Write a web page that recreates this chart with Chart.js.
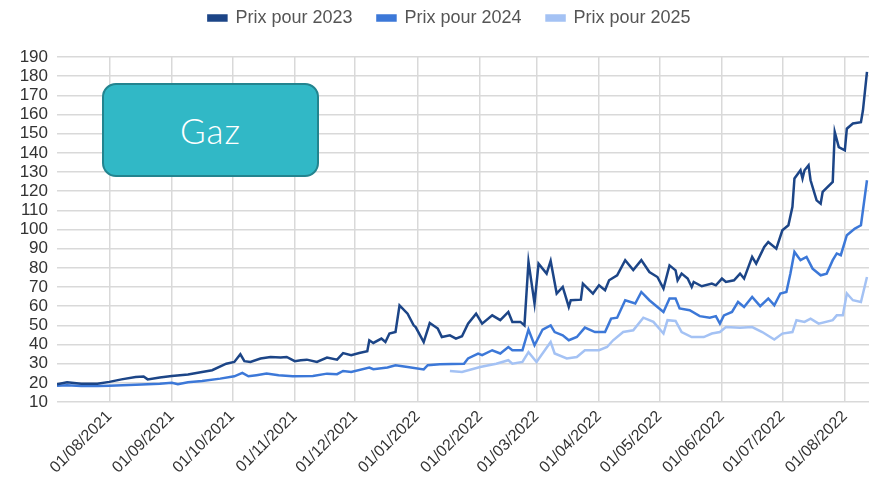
<!DOCTYPE html>
<html>
<head>
<meta charset="utf-8">
<script src="https://cdn.jsdelivr.net/npm/chart.js@4.4.1/dist/chart.umd.min.js"></script>
<style>
  html, body { margin: 0; padding: 0; background: #fff; }
  #wrap { position: relative; width: 869px; height: 487px; }
  #gaz {
    position: absolute; left: 102px; top: 83px; width: 213px; height: 90px;
    background: #31b8c6; border: 2px solid #23848f; border-radius: 14px;
    color: #fff; font-family: Lato, "Noto Sans", sans-serif; font-weight: 300;
    font-size: 35px; letter-spacing: 1px; display: flex; align-items: center; justify-content: center;
  }
</style>
</head>
<body>
<div id="wrap">
  <canvas id="gazChart" width="869" height="487"></canvas>
  <div id="gaz">Gaz</div>
</div>
<script>
// Prix du gaz par échéance (lecture du graphique)
const dates2023 = ['2021-07-06','2021-07-11','2021-07-18','2021-07-26','2021-08-01','2021-08-07','2021-08-14','2021-08-18','2021-08-20','2021-08-26',
  '2021-09-01','2021-09-09','2021-09-16','2021-09-21','2021-09-28','2021-10-02','2021-10-05','2021-10-07','2021-10-10','2021-10-15',
  '2021-10-20','2021-10-25','2021-10-28','2021-11-01','2021-11-04','2021-11-07','2021-11-12','2021-11-17','2021-11-22','2021-11-25',
  '2021-11-29','2021-12-03','2021-12-07','2021-12-08','2021-12-10','2021-12-14','2021-12-16','2021-12-18','2021-12-21','2021-12-23',
  '2021-12-27','2021-12-30','2021-12-31','2022-01-04','2022-01-07','2022-01-11','2022-01-13','2022-01-17','2022-01-20','2022-01-23',
  '2022-01-26','2022-01-30','2022-02-02','2022-02-07','2022-02-11','2022-02-15','2022-02-17','2022-02-21','2022-02-23','2022-02-25',
  '2022-02-28','2022-03-02','2022-03-06','2022-03-08','2022-03-11','2022-03-14','2022-03-17','2022-03-18','2022-03-23','2022-03-24',
  '2022-03-29','2022-04-01','2022-04-04','2022-04-06','2022-04-10','2022-04-14','2022-04-18','2022-04-22','2022-04-26','2022-04-30',
  '2022-05-03','2022-05-06','2022-05-09','2022-05-10','2022-05-12','2022-05-15','2022-05-17','2022-05-18','2022-05-22','2022-05-27',
  '2022-05-29','2022-06-01','2022-06-03','2022-06-07','2022-06-10','2022-06-12','2022-06-16','2022-06-18','2022-06-22','2022-06-24',
  '2022-06-28','2022-07-01','2022-07-04','2022-07-06','2022-07-07','2022-07-10','2022-07-11','2022-07-12','2022-07-14','2022-07-15',
  '2022-07-18','2022-07-20','2022-07-21','2022-07-26','2022-07-27','2022-07-29','2022-08-01','2022-08-02','2022-08-05','2022-08-09',
  '2022-08-10','2022-08-12'];
const prix2023 = [19.3, 20.3, 19.5, 19.5, 20.5, 21.8, 23, 23.3, 21.8, 22.8,
  23.6, 24.4, 25.7, 26.6, 30, 30.9, 34.9, 31.3, 30.9, 32.7,
  33.5, 33.2, 33.5, 31.3, 31.8, 32.1, 30.9, 33.2, 32.1, 35.5,
  34.4, 35.6, 36.5, 42.2, 40.8, 43.1, 41.3, 45.7, 46.5, 60.4,
  56.1, 50, 49.1, 41.3, 51.2, 48.3, 43.9, 44.8, 43.1, 44.3,
  50.9, 56.1, 50.9, 55.2, 52.7, 57, 51.8, 51.8, 50, 83.1,
  61.4, 82.2, 77, 83.6, 66.6, 70, 59.6, 63.1, 63.4, 71.8,
  66.6, 70.9, 68.3, 73.5, 76.1, 84, 78.9, 84, 77.8, 75.2,
  69.2, 81.3, 78.7, 73.5, 77, 74.4, 70, 72.6, 70.4, 71.8,
  70.9, 74.4, 72.6, 73.5, 77, 74.4, 85.7, 82.2, 90.9, 93.5,
  90, 99.6, 102.2, 111.8, 126.6, 130.9, 126.6, 130.9, 133.5, 125.7,
  115.2, 113.5, 119.6, 124.8, 150.9, 143, 141.3, 152.6, 155.3, 156,
  162.2, 182.2];

const dates2024 = ['2021-07-06','2021-07-11','2021-07-18','2021-07-26','2021-08-01','2021-08-14','2021-08-26','2021-09-01','2021-09-04','2021-09-09',
  '2021-09-16','2021-09-25','2021-10-02','2021-10-06','2021-10-09','2021-10-13','2021-10-18','2021-10-24','2021-10-31','2021-11-10',
  '2021-11-17','2021-11-22','2021-11-25','2021-11-29','2021-12-08','2021-12-10','2021-12-17','2021-12-21','2021-12-27','2022-01-04',
  '2022-01-06','2022-01-12','2022-01-24','2022-01-26','2022-01-31','2022-02-02','2022-02-07','2022-02-11','2022-02-15','2022-02-17',
  '2022-02-22','2022-02-25','2022-02-28','2022-03-04','2022-03-08','2022-03-10','2022-03-14','2022-03-17','2022-03-21','2022-03-25',
  '2022-03-30','2022-04-04','2022-04-07','2022-04-10','2022-04-14','2022-04-19','2022-04-22','2022-04-26','2022-04-30','2022-05-03',
  '2022-05-06','2022-05-09','2022-05-11','2022-05-16','2022-05-21','2022-05-26','2022-05-29','2022-05-31','2022-06-02','2022-06-06',
  '2022-06-09','2022-06-12','2022-06-16','2022-06-20','2022-06-24','2022-06-27','2022-06-30','2022-07-03','2022-07-05','2022-07-07',
  '2022-07-10','2022-07-13','2022-07-16','2022-07-20','2022-07-23','2022-07-26','2022-07-28','2022-07-30','2022-08-02','2022-08-06',
  '2022-08-09','2022-08-12'];
const prix2024 = [18.5, 18.8, 18.3, 18.3, 18.5, 19, 19.5, 20, 19.3, 20.3,
  21, 22.2, 23.4, 25.2, 23.4, 24, 24.8, 24, 23.4, 23.6,
  24.8, 24.5, 26.2, 25.7, 28, 27.1, 28, 29.2, 28.3, 27,
  29.2, 29.7, 30, 32.7, 35.3, 34.4, 37, 35.3, 38.7, 37,
  37, 47.8, 39.6, 47.8, 50, 46.5, 44.8, 42.2, 43.9, 48.8,
  46.5, 46.5, 53.5, 54, 63.1, 61.4, 67.4, 63.1, 59.6, 57,
  64, 64, 58.8, 57.9, 54.8, 54, 54.8, 50.9, 55.2, 57,
  62.2, 59.6, 64.8, 60, 64, 60.5, 66.6, 67.4, 77, 88.3,
  84, 85.7, 79.6, 76.1, 77, 84, 87.5, 86.6, 97, 100.5,
  102.2, 125.7];

const dates2025 = ['2022-01-17','2022-01-23','2022-02-01','2022-02-09','2022-02-15','2022-02-17','2022-02-22','2022-02-25','2022-03-01','2022-03-08',
  '2022-03-10','2022-03-16','2022-03-21','2022-03-25','2022-04-01','2022-04-05','2022-04-08','2022-04-13','2022-04-18','2022-04-23',
  '2022-04-28','2022-05-03','2022-05-05','2022-05-09','2022-05-12','2022-05-17','2022-05-23','2022-05-27','2022-05-31','2022-06-03',
  '2022-06-10','2022-06-16','2022-06-21','2022-06-27','2022-07-01','2022-07-06','2022-07-08','2022-07-12','2022-07-15','2022-07-19',
  '2022-07-26','2022-07-28','2022-07-31','2022-08-02','2022-08-05','2022-08-09','2022-08-12'];
const prix2025 = [26.2, 25.7, 28.3, 30, 31.8, 30, 30.9, 36, 30.9, 41.3,
  35.3, 32.7, 33.5, 37, 37, 38.7, 42.2, 46.5, 47.4, 54,
  51.8, 45.7, 52.7, 52.3, 46.5, 43.9, 43.9, 45.7, 46.5, 49.1,
  48.8, 49.1, 46.5, 42.6, 45.7, 46.5, 52.7, 51.8, 53.5, 50.9,
  52.7, 55.2, 55.2, 66.6, 63.1, 62.2, 75.2];

const yTicks = [10, 20, 30, 40, 50, 60, 70, 80, 90, 100, 110, 120, 130, 140, 150, 160, 170, 180, 190];
const monthTicks = ['2021-08-01','2021-09-01','2021-10-01','2021-11-01','2021-12-01','2022-01-01','2022-02-01',
  '2022-03-01','2022-04-01','2022-05-01','2022-06-01','2022-07-01','2022-08-01'];

// jours depuis l'époque (pas d'adaptateur de dates disponible)
function day(s) {
  const p = s.split('-');
  return Date.UTC(+p[0], +p[1] - 1, +p[2]) / 864e5;
}
function fmt(d) {
  const t = new Date(d * 864e5);
  const dd = String(t.getUTCDate()).padStart(2, '0');
  const mm = String(t.getUTCMonth() + 1).padStart(2, '0');
  return dd + '/' + mm + '/' + t.getUTCFullYear();
}
function pts(dates, vals) {
  return dates.map((d, i) => ({ x: day(d), y: vals[i] }));
}

// hauteur fixe de la légende + léger décalage à droite
const legendTweak = {
  id: 'legendTweak',
  beforeInit(chart) {
    const lg = chart.legend;
    const fit = lg.fit;
    lg.fit = function () {
      fit.bind(lg)();
      this.height = 73;
    };
    const draw = lg.draw;
    lg.draw = function () {
      const c = chart.ctx;
      c.save();
      c.translate(15, 0);
      draw.apply(lg, arguments);
      c.restore();
    };
  }
};

const font = '"Liberation Sans", Arial, sans-serif';
const ctx = document.getElementById('gazChart').getContext('2d');
const gazChart = new Chart(ctx, {
  type: 'line',
  data: {
    datasets: [
      { label: 'Prix pour 2023', data: pts(dates2023, prix2023), borderColor: '#1c4587', backgroundColor: '#1c4587' },
      { label: 'Prix pour 2024', data: pts(dates2024, prix2024), borderColor: '#3c78d8', backgroundColor: '#3c78d8' },
      { label: 'Prix pour 2025', data: pts(dates2025, prix2025), borderColor: '#a4c2f4', backgroundColor: '#a4c2f4' }
    ]
  },
  options: {
    responsive: false,
    animation: false,
    layout: { padding: { top: -16, left: 0, right: 0, bottom: 0 } },
    elements: {
      line: { borderWidth: 2.5, tension: 0 },
      point: { radius: 0 }
    },
    plugins: {
      legend: {
        display: true,
        position: 'top',
        labels: {
          color: '#555',
          boxWidth: 18,
          boxHeight: 5,
          padding: 25,
          font: { family: font, size: 18 }
        }
      },
      tooltip: { enabled: false }
    },
    scales: {
      x: {
        type: 'linear',
        min: day('2021-07-06'),
        max: day('2022-08-13'),
        afterBuildTicks: (scale) => { scale.ticks = monthTicks.map(m => ({ value: day(m) })); },
        afterFit: (scale) => { scale.height = 85; },
        ticks: {
          autoSkip: false,
          maxRotation: 45,
          minRotation: 45,
          padding: 5,
          color: '#333',
          font: { family: font, size: 16 },
          callback: (v) => fmt(v)
        },
        grid: { color: '#d9d9d9', lineWidth: 1.5, drawTicks: false },
        border: { display: false }
      },
      y: {
        min: 10,
        max: 190,
        afterBuildTicks: (scale) => { scale.ticks = yTicks.map(v => ({ value: v })); },
        afterFit: (scale) => { scale.width = 57; },
        ticks: {
          autoSkip: false,
          padding: 9,
          color: '#333',
          font: { family: font, size: 17 }
        },
        grid: { color: '#d9d9d9', lineWidth: 1.5, drawTicks: false },
        border: { display: false }
      }
    }
  },
  plugins: [legendTweak]
});
</script>
</body>
</html>
